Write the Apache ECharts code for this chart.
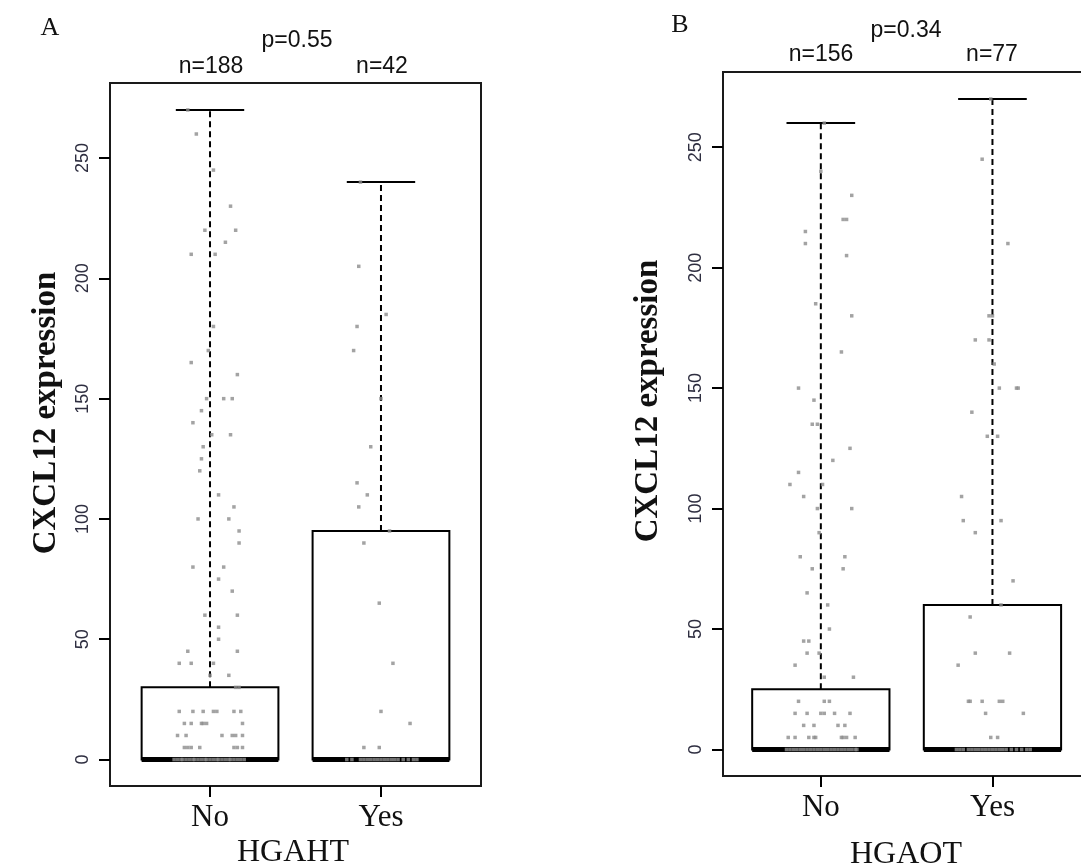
<!DOCTYPE html>
<html>
<head>
<meta charset="utf-8">
<script src="https://cdn.jsdelivr.net/npm/echarts@6/dist/echarts.min.js"></script>
<style>
  html, body { margin: 0; padding: 0; background: #fff; }
  #chart { width: 1081px; height: 866px; }
</style>
</head>
<body>
<div id="chart"></div>
<script>
// ---------- data ----------
const groups = ['No', 'Yes'];
const yTicks = [0, 50, 100, 150, 200, 250];

// Panel A (HGAHT) box stats: [low, Q1, median, Q3, high]
const statsA = [[0, 0, 0, 30, 270], [0, 0, 0, 95, 240]];
const nA = [188, 42];
const pA = '0.55';

// Panel B (HGAOT)
const statsB = [[0, 0, 0, 25, 260], [0, 0, 0, 60, 270]];
const nB = [156, 77];
const pB = '0.34';

// jittered points: values and horizontal jitter (in category units)
const aNoVals = [270,260,245,230,220,220,215,210,210,180,170,165,160,150,150,150,145,140,135,135,130,125,120,110,105,100,100,95,90,80,80,75,70,60,60,55,50,45,45,40,40,40,35,35,30,30,
  20,20,20,20,20,20,20, 15,15,15,15,15,15, 10,10,10,10,10,10, 5,5,5,5,5,5,5,
  0,0,0,0,0,0,0,0,0,0,0,0,0,0,0,0,0,0,0,0,0,0,0,0];
const aNoJit = [-0.13,-0.08,0.02,0.12,-0.03,0.15,0.09,-0.11,0.03,0.02,-0.01,-0.11,0.16,-0.02,0.08,0.13,-0.05,-0.10,0.01,0.12,-0.04,-0.05,-0.06,0.05,0.14,-0.07,0.11,0.17,0.17,-0.10,0.08,0.05,0.13,-0.03,0.16,0.05,0.05,-0.13,0.16,-0.18,-0.11,0.02,0.00,0.11,0.15,0.17,
  -0.18,-0.10,-0.04,0.02,0.04,0.14,0.18, -0.15,-0.11,-0.05,-0.04,-0.02,0.19, -0.19,-0.14,0.07,0.13,0.15,0.19, -0.15,-0.13,-0.11,-0.06,0.14,0.16,0.19,
  -0.21,-0.19,-0.17,-0.16,-0.14,-0.12,-0.10,-0.09,-0.07,-0.05,-0.03,-0.02,0.00,0.02,0.04,0.05,0.07,0.09,0.11,0.12,0.14,0.16,0.18,0.20];

const aYesVals = [240,205,185,180,170,150,130,115,110,105,95,90,65,40,20,15,5,5,
  0,0,0,0,0,0,0,0,0,0,0,0,0,0,0,0,0,0];
const aYesJit = [-0.12,-0.13,0.03,-0.14,-0.16,0.00,-0.06,-0.14,-0.08,-0.13,0.05,-0.10,-0.01,0.07,0.00,0.17,-0.10,-0.01,
  -0.20,-0.17,-0.12,-0.10,-0.08,-0.06,-0.04,-0.02,0.00,0.02,0.04,0.06,0.08,0.10,0.13,0.16,0.19,0.21];

const bNoVals = [260,240,230,220,220,215,210,205,185,180,165,150,145,135,135,125,120,115,110,110,105,100,100,90,80,80,75,75,65,60,50,45,45,40,40,35,30,30,
  20,20,20, 15,15,15,15,15,15, 10,10,10,10, 5,5,5,5,5,5,5,5,5,
  0,0,0,0,0,0,0,0,0,0,0,0,0,0,0,0,0,0,0,0,0,0];
const bNoJit = [0.02,0.00,0.18,0.13,0.15,-0.09,-0.09,0.15,-0.03,0.18,0.12,-0.13,-0.04,-0.05,-0.02,0.17,0.07,-0.13,-0.18,0.01,-0.10,-0.02,0.18,-0.01,-0.12,0.14,-0.05,0.13,-0.08,0.04,0.05,-0.10,-0.07,-0.08,-0.01,-0.15,0.02,0.19,
  -0.13,0.02,0.05, -0.15,-0.08,0.00,0.02,0.08,0.17, -0.10,-0.04,0.10,0.14, -0.19,-0.15,-0.07,-0.04,-0.03,0.12,0.13,0.15,0.20,
  -0.20,-0.18,-0.16,-0.14,-0.12,-0.10,-0.08,-0.06,-0.04,-0.02,0.00,0.02,0.04,0.06,0.08,0.10,0.12,0.14,0.16,0.18,0.20,0.21];

const bYesVals = [270,245,210,180,180,170,170,160,150,150,150,140,130,130,105,95,95,90,70,60,55,40,40,35,20,20,20,20,20,15,15,5,5,
  0,0,0,0,0,0,0,0,0,0,0,0,0,0,0,0,0,0,0,0,0];
const bYesJit = [-0.01,-0.06,0.09,-0.02,0.00,-0.10,-0.02,0.01,0.04,0.14,0.15,-0.12,-0.03,0.03,-0.18,-0.17,0.05,-0.10,0.12,0.05,-0.13,-0.10,0.10,-0.20,-0.14,-0.13,-0.06,0.04,0.06,-0.04,0.18,-0.01,0.03,
  -0.21,-0.19,-0.17,-0.14,-0.12,-0.10,-0.08,-0.06,-0.04,-0.02,0.00,0.02,0.04,0.06,0.08,0.11,0.14,0.17,0.20,0.22];

// ---------- helpers ----------
function boxData(stats) {
  return stats.map((s, i) => [i + 1].concat(s));
}
function pointData(pos, vals, jit) {
  return vals.map((v, i) => [pos + jit[i], v]);
}
const HALF = 0.4, CAP = 0.2;
function renderBox(params, api) {
  const x = api.value(0), lo = api.value(1), q1 = api.value(2), md = api.value(3), q3 = api.value(4), hi = api.value(5);
  const tl = api.coord([x - HALF, q3]);
  const br = api.coord([x + HALF, q1]);
  const mL = api.coord([x - HALF, md]);
  const mR = api.coord([x + HALF, md]);
  const wB = api.coord([x, q3]);
  const wT = api.coord([x, hi]);
  const cL = api.coord([x - CAP, hi]);
  const cR = api.coord([x + CAP, hi]);
  const children = [
    { type: 'line', shape: { x1: wB[0], y1: wB[1], x2: wT[0], y2: wT[1] }, style: { stroke: '#000', lineWidth: 2, lineDash: [6, 4] } },
    { type: 'line', shape: { x1: cL[0], y1: cL[1], x2: cR[0], y2: cR[1] }, style: { stroke: '#000', lineWidth: 2 } },
    { type: 'rect', shape: { x: tl[0], y: tl[1], width: br[0] - tl[0], height: br[1] - tl[1] }, style: { fill: '#fff', stroke: '#000', lineWidth: 2 } },
    { type: 'line', shape: { x1: mL[0], y1: mL[1], x2: mR[0], y2: mR[1] }, style: { stroke: '#000', lineWidth: 5 } }
  ];
  if (lo < q1) {
    const lB = api.coord([x, lo]), lq = api.coord([x, q1]);
    const lL = api.coord([x - CAP, lo]), lR = api.coord([x + CAP, lo]);
    children.push({ type: 'line', shape: { x1: lq[0], y1: lq[1], x2: lB[0], y2: lB[1] }, style: { stroke: '#000', lineWidth: 2, lineDash: [6, 4] } });
    children.push({ type: 'line', shape: { x1: lL[0], y1: lL[1], x2: lR[0], y2: lR[1] }, style: { stroke: '#000', lineWidth: 2 } });
  }
  return { type: 'group', children: children };
}

const serif = 'Liberation Serif';
const sans = 'Liberation Sans';

function xAxisCfg(idx, min, max) {
  return {
    gridIndex: idx, type: 'value', min: min, max: max, position: 'bottom',
    axisLine: { show: false, onZero: false }, splitLine: { show: false },
    axisTick: { show: true, customValues: [1, 2], length: 11, lineStyle: { color: '#000', width: 2 } },
    axisLabel: { customValues: [1, 2], formatter: v => groups[Math.round(v) - 1], fontFamily: serif, fontSize: 31, color: '#111', margin: 16 }
  };
}
function yAxisCfg(idx) {
  return {
    gridIndex: idx, type: 'value', min: -11, max: 281.2, position: 'left',
    axisLine: { show: false, onZero: false }, splitLine: { show: false },
    axisTick: { show: true, customValues: yTicks, length: 11, lineStyle: { color: '#000', width: 2 } },
    axisLabel: { customValues: yTicks, rotate: 90, fontFamily: sans, fontSize: 18, color: '#2e2e40', margin: 18 }
  };
}

const txt = (x, y, text, font, size, weight, rot) => ({
  type: 'text', x: x, y: y, rotation: rot || 0,
  style: { text: text, font: (weight || 'normal') + ' ' + size + 'px "' + font + '"', fill: '#111', textAlign: 'center', textVerticalAlign: 'middle' }
});

const chart = echarts.init(document.getElementById('chart'), null, { renderer: 'canvas' });
chart.setOption({
  backgroundColor: '#fff',
  animation: false,
  grid: [
    { left: 110, top: 83, width: 371, height: 703, outerBoundsMode: 'none', containLabel: false, show: true, borderColor: '#1a1a1a', borderWidth: 2, backgroundColor: 'transparent' },
    { left: 723, top: 72, width: 369, height: 704, outerBoundsMode: 'none', containLabel: false, show: true, borderColor: '#1a1a1a', borderWidth: 2, backgroundColor: 'transparent' }
  ],
  xAxis: [xAxisCfg(0, 0.415, 2.585), xAxisCfg(1, 0.43, 2.58)],
  yAxis: [yAxisCfg(0), yAxisCfg(1)],
  series: [
    { type: 'custom', xAxisIndex: 0, yAxisIndex: 0, renderItem: renderBox, data: boxData(statsA), encode: { x: 0, y: [1, 2, 3, 4, 5] }, z: 2 },
    { type: 'custom', xAxisIndex: 1, yAxisIndex: 1, renderItem: renderBox, data: boxData(statsB), encode: { x: 0, y: [1, 2, 3, 4, 5] }, z: 2 },
    { type: 'scatter', xAxisIndex: 0, yAxisIndex: 0, symbol: 'rect', symbolSize: 3.5, itemStyle: { color: '#8c8c8c' }, data: pointData(1, aNoVals, aNoJit).concat(pointData(2, aYesVals, aYesJit)), z: 5 },
    { type: 'scatter', xAxisIndex: 1, yAxisIndex: 1, symbol: 'rect', symbolSize: 3.5, itemStyle: { color: '#8c8c8c' }, data: pointData(1, bNoVals, bNoJit).concat(pointData(2, bYesVals, bYesJit)), z: 5 }
  ],
  graphic: [
    txt(50, 28, 'A', serif, 26),
    txt(297, 41, 'p=' + pA, sans, 23),
    txt(211, 67, 'n=' + nA[0], sans, 23),
    txt(382, 67, 'n=' + nA[1], sans, 23),
    txt(46, 413, 'CXCL12 expression', serif, 33, 'bold', Math.PI / 2),
    txt(293, 853, 'HGAHT', serif, 32),
    txt(680, 25, 'B', serif, 26),
    txt(906, 31, 'p=' + pB, sans, 23),
    txt(821, 55, 'n=' + nB[0], sans, 23),
    txt(992, 55, 'n=' + nB[1], sans, 23),
    txt(648, 401, 'CXCL12 expression', serif, 33, 'bold', Math.PI / 2),
    txt(906, 855, 'HGAOT', serif, 32)
  ]
});
</script>
</body>
</html>
